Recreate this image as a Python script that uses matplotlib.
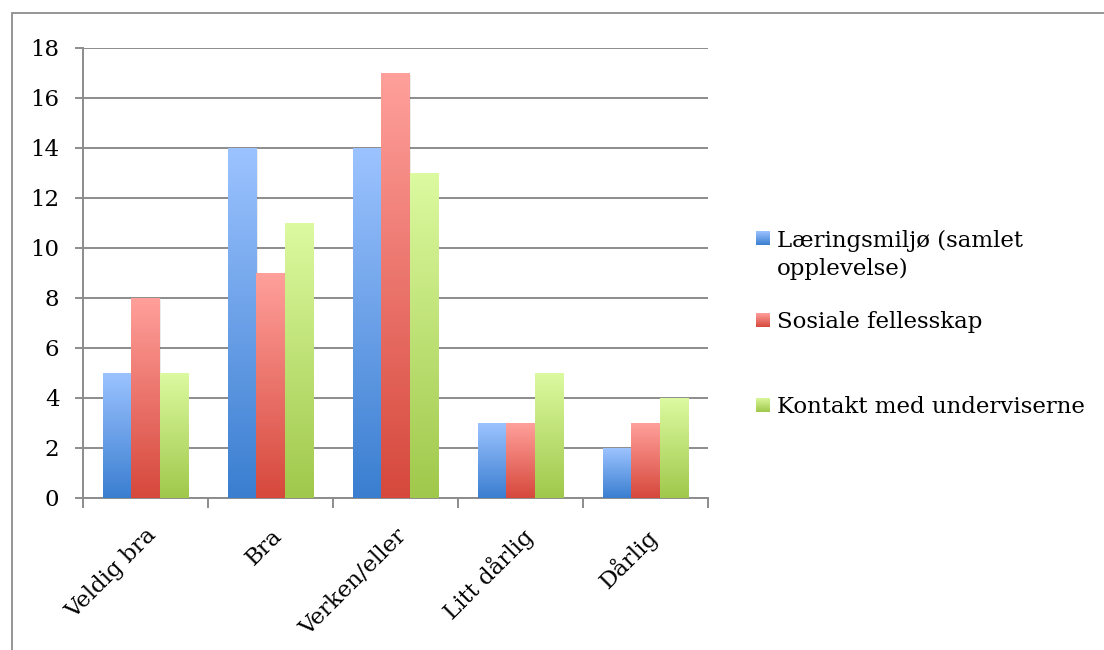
import numpy as np
import matplotlib

matplotlib.use("Agg")
import matplotlib.pyplot as plt
from matplotlib.colors import LinearSegmentedColormap
from matplotlib.patches import Rectangle

categories = ["Veldig bra", "Bra", "Verken/eller", "Litt dårlig", "Dårlig"]
series_names = ["Læringsmiljø (samlet\nopplevelse)", "Sosiale fellesskap", "Kontakt med underviserne"]
laeringsmiljo = [5, 14, 14, 3, 2]
sosiale = [8, 9, 17, 3, 3]
kontakt = [5, 11, 13, 5, 4]
y_ticks = list(range(0, 19, 2))

# (bottom colour, top colour) for every series
gradients = [
    ("#3a7ed0", "#9cc3ff"),
    ("#d6483c", "#ffa09b"),
    ("#a0c84b", "#dcfaa0"),
]

plt.rcParams["font.family"] = ["DejaVu Serif"]
FONT_SIZE = 16.5

W, H = 1104, 650
fig = plt.figure(figsize=(W / 100, H / 100), dpi=100)


def fx(px):
    return px / W


def fy(py):
    return 1 - py / H


# outer frame of the embedded chart, runs off the right and bottom edge
fig.patches.append(Rectangle((fx(12), -0.1), 1.2, fy(13) + 0.1, transform=fig.transFigure,
                             fill=False, edgecolor="#8c8c8c", linewidth=1.3))

ax = fig.add_axes([fx(83), fy(498), fx(708) - fx(83), fy(48) - fy(498)])

grid_color = "#8c8c8c"
x = np.arange(len(categories))
width = 0.226
grad = np.linspace(1, 0, 256).reshape(-1, 1)

for index, values in enumerate([laeringsmiljo, sosiale, kontakt]):
    cmap = LinearSegmentedColormap.from_list(f"g{index}", gradients[index])
    offsets = x + (index - 1) * width
    bars = ax.bar(offsets, values, width, color="none", linewidth=0, zorder=3)
    for bar, xi, v in zip(bars, offsets, values):
        # soft drop shadow
        ax.add_patch(Rectangle((xi - width / 2 + 0.012, -0.08), width, v, facecolor="#000000",
                               alpha=0.08, linewidth=0, zorder=2.5))
        img = ax.imshow(grad, cmap=cmap, extent=[xi - width / 2, xi + width / 2, 0, v],
                        aspect="auto", origin="upper", zorder=3, interpolation="bilinear")
        img.set_clip_path(bar)

ax.set_xlim(-0.5, len(categories) - 0.5)
ax.set_ylim(0, 18)
ax.set_yticks(y_ticks)
ax.set_yticklabels([str(t) for t in y_ticks], fontsize=FONT_SIZE)
ax.yaxis.grid(True, color=grid_color, linewidth=1.4, zorder=0)
ax.set_axisbelow(True)

ax.set_xticks(np.arange(len(categories) + 1) - 0.5)
ax.set_xticklabels([])
ax.set_xticks(x, minor=True)
ax.set_xticklabels(categories, minor=True, rotation=45, ha="right", rotation_mode="anchor",
                   fontsize=FONT_SIZE)
ax.tick_params(axis="x", which="minor", length=0, pad=19)
ax.tick_params(axis="x", which="major", length=7, width=1.4, color=grid_color)
ax.tick_params(axis="y", length=6, width=1.4, color=grid_color, pad=11)

for side in ["top", "right"]:
    ax.spines[side].set_visible(False)
for side in ["left", "bottom"]:
    ax.spines[side].set_color(grid_color)
    ax.spines[side].set_linewidth(1.4)

# legend drawn by hand to keep the uneven spacing of the original
legend_y = [255, 322, 407]
swatch_y = [238, 320, 405]
for index, name in enumerate(series_names):
    cmap = LinearSegmentedColormap.from_list(f"l{index}", gradients[index])
    sw = fig.add_axes([fx(756), fy(swatch_y[index] + 7), 14 / W, 14 / H])
    sw.imshow(grad, cmap=cmap, aspect="auto", origin="upper")
    sw.axis("off")
    fig.text(fx(777), fy(legend_y[index]), name, fontsize=FONT_SIZE, va="center", ha="left",
             linespacing=1.3)

fig.savefig("out.png", dpi=100)
